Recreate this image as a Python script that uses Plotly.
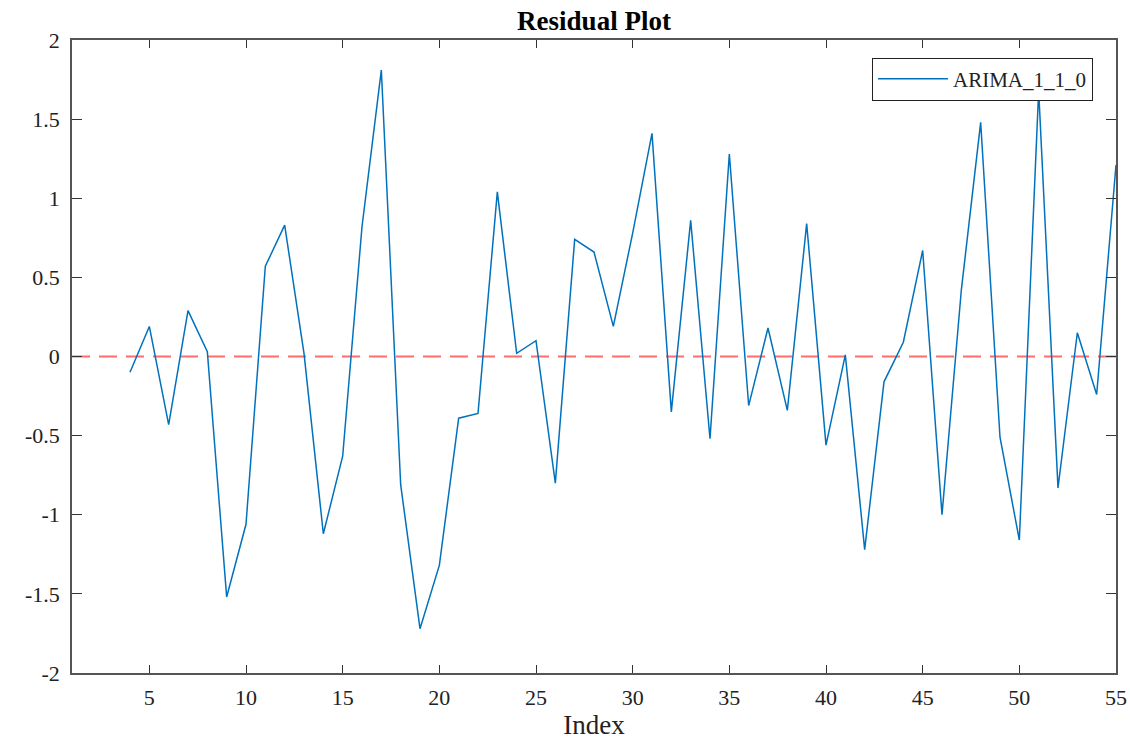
import plotly.graph_objects as go

index = list(range(4, 56))
residuals = [
    -0.10, 0.19, -0.43, 0.29, 0.03, -1.52, -1.06, 0.57, 0.83, 0.02,
    -1.12, -0.63, 0.82, 1.81, -0.81, -1.72, -1.32, -0.39, -0.36, 1.04,
    0.02, 0.10, -0.80, 0.74, 0.66, 0.19, 0.78, 1.41, -0.35, 0.86,
    -0.52, 1.28, -0.31, 0.18, -0.34, 0.84, -0.56, 0.01, -1.22, -0.16,
    0.09, 0.67, -1.00, 0.42, 1.48, -0.51, -1.16, 1.68, -0.83, 0.15,
    -0.24, 1.21,
]
x_ticks = [5, 10, 15, 20, 25, 30, 35, 40, 45, 50, 55]
y_ticks = [-2, -1.5, -1, -0.5, 0, 0.5, 1, 1.5, 2]
y_tick_labels = ["-2", "-1.5", "-1", "-0.5", "0", "0.5", "1", "1.5", "2"]
zero_line_x = [1, 55]
zero_line_y = [0, 0]

serif = "Liberation Serif, Times New Roman, serif"

fig = go.Figure()
fig.add_trace(go.Scatter(
    x=zero_line_x, y=zero_line_y, mode="lines",
    line=dict(color="rgba(255,60,60,0.75)", width=2, dash="18px,9px"),
    showlegend=False, hoverinfo="skip",
))
fig.add_trace(go.Scatter(
    x=index, y=residuals, mode="lines", name="ARIMA_1_1_0",
    line=dict(color="#0072BD", width=1.5),
))

axis_common = dict(
    showgrid=False, zeroline=False, showline=True, linecolor="#555555",
    linewidth=1.5, mirror="ticks", ticks="inside", tickcolor="#333333",
    tickwidth=1, automargin=False,
    tickfont=dict(family=serif, size=22, color="#222222"),
)
fig.update_xaxes(
    range=[1, 55], tickvals=x_ticks, ticklen=8, ticklabelstandoff=4,
    title=dict(text="Index", font=dict(family=serif, size=27, color="#222222"), standoff=4),
    **axis_common,
)
fig.update_yaxes(
    range=[-2, 2], tickvals=y_ticks, ticktext=y_tick_labels, ticklen=10,
    ticklabelstandoff=6,
    **axis_common,
)
fig.update_layout(
    width=1130, height=740,
    margin=dict(l=72, r=14, t=40, b=67),
    plot_bgcolor="white", paper_bgcolor="white",
    title=dict(text="<b>Residual Plot</b>", x=0.5, xref="paper", xanchor="center",
               y=1 - 21 / 740, yanchor="middle",
               font=dict(family=serif, size=27, color="#000000")),
    legend=dict(
        x=0.978, y=0.972, xanchor="right", yanchor="top",
        bgcolor="white", bordercolor="#222222", borderwidth=1,
        font=dict(family=serif, size=21, color="#222222"),
        itemwidth=70,
    ),
    showlegend=True,
)

fig.write_html("out.html")
